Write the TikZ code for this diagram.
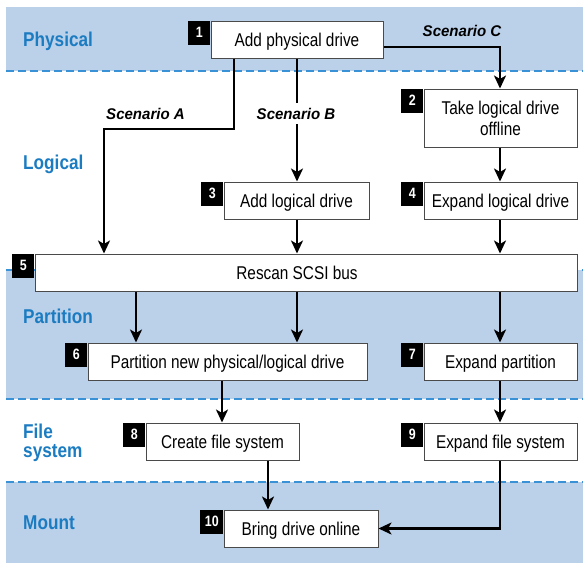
\documentclass[tikz,border=0pt]{standalone}
\usepackage{fontspec}
\setmainfont{Liberation Sans}[FakeStretch=0.83]
\newfontfamily\lblfont{Liberation Sans}[FakeStretch=0.86]
\newfontfamily\scnfont{Liberation Sans}[FakeStretch=0.97]
\usetikzlibrary{arrows.meta}
\definecolor{bandblue}{HTML}{BBD0E9}
\definecolor{lblblue}{HTML}{1C7CC2}
\definecolor{dashblue}{HTML}{3A92D6}
\definecolor{boxgray}{HTML}{4A4A4A}
\begin{document}
\begin{tikzpicture}[x=1pt,y=-1pt,
  box/.style={draw=boxgray, line width=1pt, fill=white, inner sep=0pt, minimum height=37pt,
    font=\fontsize{18.5}{21}\selectfont, text height=13.2pt, text depth=0pt},
  tag/.style={fill=black, text=white, font=\bfseries\fontsize{15}{16}\selectfont,
    minimum width=22pt, minimum height=24pt, inner sep=0pt, anchor=north east},
  lbl/.style={text=lblblue, font=\lblfont\bfseries\fontsize{20}{19}\selectfont,
    anchor=base west, inner sep=0pt, align=left},
  scn/.style={font=\scnfont\bfseries\itshape\fontsize{15.5}{18}\selectfont, anchor=base, inner sep=0pt},
  arr/.style={line width=2.2pt, line join=miter, -{Stealth[length=13pt,width=12pt,inset=3.5pt]}},
  band/.style={fill=bandblue},
  sepline/.style={draw=dashblue, line width=1.4pt, dash pattern=on 8pt off 4pt}]
\useasboundingbox (0,0) rectangle (583,565);
% bands
\fill[band] (6,7) rectangle (583,71);
\fill[band] (6,270) rectangle (583,399);
\fill[band] (6,482) rectangle (583,563);
\draw[sepline] (6,71) -- (583,71);
\draw[sepline] (6,270) -- (583,270);
\draw[sepline] (6,399) -- (583,399);
\draw[sepline] (6,482) -- (583,482);
% band labels
\node[lbl] (lphys) at (23,46) {Physical};
\node[lbl] (llog) at (23,169) {Logical};
\node[lbl] (lpart) at (23,323) {Partition};
\node[lbl] (lfs) at (23,457) {File\\system};
\node[lbl] (lmnt) at (23,529) {Mount};
% boxes
\node[box, minimum width=172pt] (n1) at (297,39.5) {Add physical drive};
\node[box, minimum width=153pt, minimum height=58pt, text height=, text depth=, align=center,
  font=\fontsize{18.5}{21}\selectfont] (n2) at (500.5,118) {Take logical drive\\offline};
\node[box, minimum width=145pt] (n3) at (296.5,200.5) {Add logical drive};
\node[box, minimum width=153pt] (n4) at (500.5,200.5) {Expand logical drive};
\node[box, minimum width=542pt] (n5) at (306,272.5) {\hspace*{-18pt}Rescan SCSI bus};
\node[box, minimum width=279pt] (n6) at (227.5,361.5) {Partition new physical/logical drive};
\node[box, minimum width=153pt] (n7) at (500.5,361.5) {Expand partition};
\node[box, minimum width=153pt] (n8) at (222.5,441.5) {Create file system};
\node[box, minimum width=153pt] (n9) at (500.5,441.5) {Expand file system};
\node[box, minimum width=154pt] (n10) at (301,528.5) {Bring drive online};
% tags
\node[tag] (t1) at (n1.north west) {1};
\node[tag] (t2) at (n2.north west) {2};
\node[tag] (t3) at (n3.north west) {3};
\node[tag] (t4) at (n4.north west) {4};
\node[tag] (t5) at (n5.north west) {5};
\node[tag] (t6) at (n6.north west) {6};
\node[tag] (t7) at (n7.north west) {7};
\node[tag] (t8) at (n8.north west) {8};
\node[tag] (t9) at (n9.north west) {9};
\node[tag, minimum width=23pt] (t10) at (n10.north west) {10};
% connectors
\draw[arr] (234,0 |- n1.south) |- (104,129) -- (104,0 |- n5.north);
\draw[arr] (297,0 |- n1.south) -- (297,0 |- n3.north);
\draw[arr] (n1.east |- 0,47) -| (500,0 |- n2.north);
\draw[arr] (500,0 |- n2.south) -- (500,0 |- n4.north);
\draw[arr] (297,0 |- n3.south) -- (297,0 |- n5.north);
\draw[arr] (500,0 |- n4.south) -- (500,0 |- n5.north);
\draw[arr] (136,0 |- n5.south) -- (136,0 |- n6.north);
\draw[arr] (297,0 |- n5.south) -- (297,0 |- n6.north);
\draw[arr] (500,0 |- n5.south) -- (500,0 |- n7.north);
\draw[arr] (222,0 |- n6.south) -- (222,0 |- n8.north);
\draw[arr] (500,0 |- n7.south) -- (500,0 |- n9.north);
\draw[arr] (268,0 |- n8.south) -- (268,0 |- n10.north);
\draw[arr] (500,0 |- n9.south) |- (n10.east);
% scenario labels
\node[scn] (sa) at (145.5,119) {Scenario A};
\node[scn, fill=white, inner xsep=3pt, inner ysep=5pt] (sb) at (296,119) {Scenario B};
\node[scn] (sc) at (462,36) {Scenario C};
\end{tikzpicture}
\end{document}
